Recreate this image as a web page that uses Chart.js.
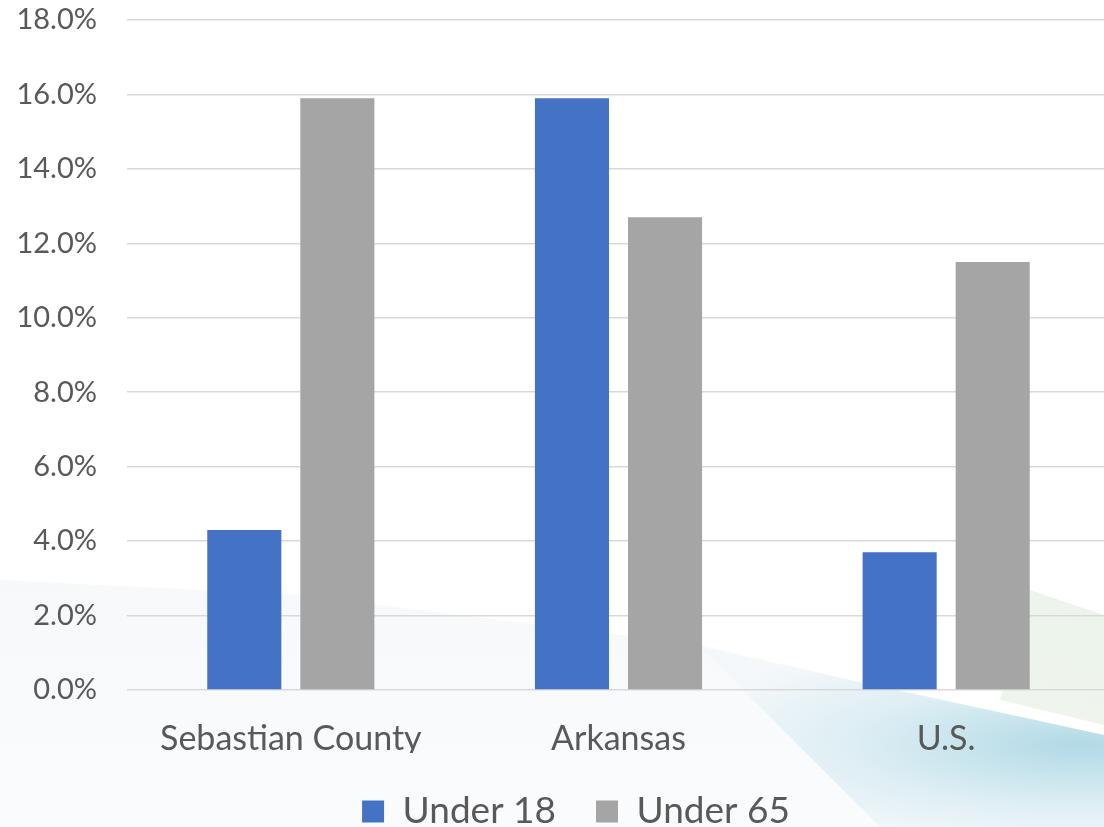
<!DOCTYPE html>
<html>
<head>
<meta charset="utf-8">
<script src="https://cdn.jsdelivr.net/npm/chart.js@4"></script>
<style>
html,body{margin:0;padding:0;background:#fff;}
#wrap{position:relative;width:1104px;height:827px;overflow:hidden;background:#fff;}
.bg{position:absolute;left:0;top:0;width:1104px;height:827px;}
#bg1{background:linear-gradient(180deg,rgba(240,244,248,0) 0%,rgba(241,245,248,0.9) 40%,rgba(247,249,251,0.6) 100%);clip-path:polygon(0 580px,300px 595px,700px 645px,1104px 740px,1104px 827px,0 827px);}
#bg2{background:radial-gradient(ellipse 420px 110px at 1080px 745px,rgba(165,212,226,0.85) 0%,rgba(195,226,236,0.5) 55%,rgba(225,238,245,0.15) 100%);clip-path:polygon(700px 647px,1104px 735px,1104px 827px,880px 827px);}
#bg3{background:linear-gradient(200deg,rgba(220,234,214,0.75) 0%,rgba(226,236,228,0.35) 100%);clip-path:polygon(1030px 590px,1104px 615px,1104px 725px,1000px 700px);}
canvas{position:absolute;left:0;top:0;}
</style>
</head>
<body>
<div id="wrap">
<div class="bg" id="bg1"></div>
<div class="bg" id="bg2"></div>
<div class="bg" id="bg3"></div>
<canvas id="c" width="1104" height="840"></canvas>
</div>
<script>
const categories = ["Sebastian County", "Arkansas", "U.S."];
const under18 = [4.3, 15.9, 3.7];
const under65 = [15.9, 12.7, 11.5];
const seriesNames = ["Under 18", "Under 65"];

const FONT = "Lato, 'Open Sans', sans-serif";
const TXT = "#595959";

const layoutTweak = {
  id: "layoutTweak",
  afterLayout(chart) {
    if (chart.legend) chart.legend.left += 48;
    const x = chart.scales.x;
    x.right += 6; x.width += 6; x.configure();
  }
};

new Chart(document.getElementById("c"), {
  type: "bar",
  data: {
    labels: categories,
    datasets: [
      {label: seriesNames[0], data: under18, backgroundColor: "#4472C4", categoryPercentage: 0.568, barPercentage: 0.796},
      {label: seriesNames[1], data: under65, backgroundColor: "#A5A5A5", categoryPercentage: 0.568, barPercentage: 0.796}
    ]
  },
  plugins: [layoutTweak],
  options: {
    responsive: false,
    animation: false,
    layout: {padding: {top: 20, right: 0, left: 0, bottom: 0}},
    plugins: {
      tooltip: {enabled: false},
      legend: {
        position: "bottom",
        labels: {
          boxWidth: 22, boxHeight: 22, padding: 40,
          color: TXT, font: {family: FONT, size: 37}
        }
      }
    },
    scales: {
      x: {
        grid: {display: false},
        border: {display: false},
        ticks: {color: TXT, font: {family: FONT, size: 34}, padding: 21, maxRotation: 0},
        afterFit: s => { s.height = 63; }
      },
      y: {
        min: 0, max: 18,
        ticks: {stepSize: 2, color: TXT, font: {family: FONT, size: 29}, padding: 30,
          callback: v => v.toFixed(1) + "%"},
        grid: {color: "#D9D9D9", lineWidth: 1.5, drawTicks: false},
        border: {display: false},
        afterFit: s => { s.width = 127; s.paddingTop = 0; s.paddingBottom = 0; }
      }
    }
  }
});
</script>
</body>
</html>
